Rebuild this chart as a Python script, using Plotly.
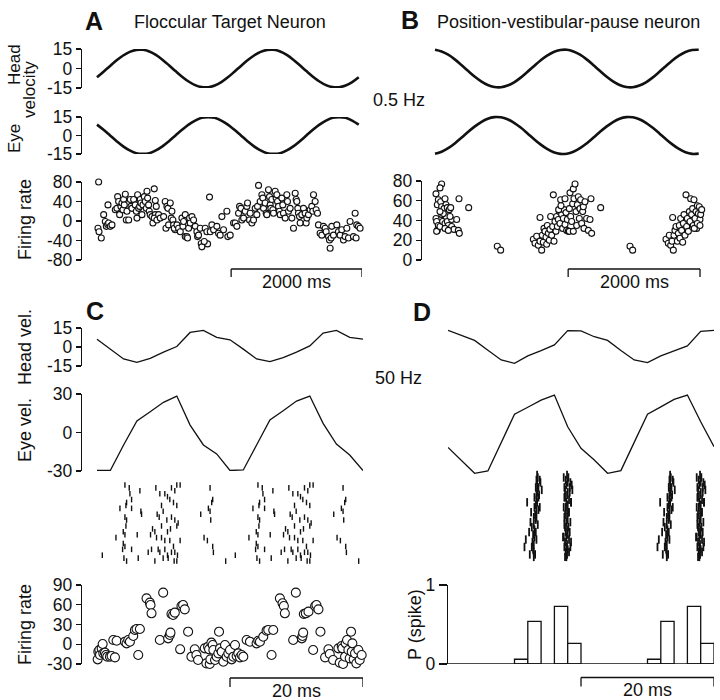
import plotly.graph_objects as go

W, H = 720, 700
INK = "#111111"
FONT = "Liberation Sans, Arial, Helvetica, sans-serif"

# ---------------- data ----------------
# Panel A / B : 0.5 Hz sinusoidal rotation (ms, deg/s)
t_sine = list(range(0, 4001, 100))
head_a = [-6.8, -2.5, 2.0, 6.3, 10.0, 12.8, 14.3, 14.4, 13.1, 10.5, 6.8, 2.5, -2.0, -6.3, -10.0, -12.8, -14.3, -14.4, -13.1, -10.5,
          -6.8, -2.5, 2.0, 6.3, 10.0, 12.8, 14.3, 14.4, 13.1, 10.5, 6.8, 2.5, -2.0, -6.3, -10.0, -12.8, -14.3, -14.4, -13.1, -10.5, -6.8]
eye_a = [8.8, 4.6, 0.0, -4.6, -8.8, -12.1, -14.3, -14.8, -14.3, -12.1, -8.8, -4.6, 0.0, 4.6, 8.8, 12.1, 14.3, 14.8, 14.3, 12.1,
         8.8, 4.6, 0.0, -4.6, -8.8, -12.1, -14.3, -14.8, -14.3, -12.1, -8.8, -4.6, 0.0, 4.6, 8.8, 12.1, 14.3, 14.8, 14.3, 12.1, 8.8]
head_b = [14.4, 13.1, 10.6, 7.0, 2.7, -1.8, -6.2, -9.9, -12.7, -14.2, -14.4, -13.1, -10.6, -7.0, -2.7, 1.8, 6.2, 9.9, 12.7, 14.2,
          14.4, 13.1, 10.6, 7.0, 2.7, -1.8, -6.2, -9.9, -12.7, -14.2, -14.4, -13.1, -10.6, -7.0, -2.7, 1.8, 6.2, 9.9, 12.7, 14.2, 14.4]
eye_b = [-14.7, -13.1, -10.3, -6.4, -1.9, 2.8, 7.2, 10.9, 13.6, 14.9, 14.7, 13.1, 10.3, 6.4, 1.9, -2.8, -7.2, -10.9, -13.6, -14.9,
         -14.7, -13.1, -10.3, -6.4, -1.9, 2.8, 7.2, 10.9, 13.6, 14.9, 14.7, 13.1, 10.3, 6.4, 1.9, -2.8, -7.2, -10.9, -13.6, -14.9, -14.7]

# Panel A firing rate (ms, spikes/s)
fr_a_t = [25, 15, 31, 66, 102, 127, 143, 163, 178, 204,
          168, 229, 280, 305, 316, 331, 346, 366, 382, 397,
          407, 417, 433, 448, 458, 484, 509, 519, 534, 560,
          585, 601, 611, 621, 636, 652, 662, 672, 687, 702,
          723, 738, 753, 764, 774, 789, 799, 814, 840, 855,
          875, 891, 906, 891, 875, 916, 942, 967, 1018, 1043,
          1069, 1084, 1054, 1094, 1120, 1145, 1135, 1160, 1171, 1196,
          1181, 1222, 1247, 1273, 1298, 1313, 1323, 1349, 1349, 1374,
          1384, 1400, 1415, 1425, 1451, 1476, 1502, 1527, 1537, 1552,
          1578, 1593, 1603, 1690, 1654, 1680, 1639, 1720, 1731, 1756,
          1782, 1832, 1858, 1883, 1909, 1934, 1985, 2000, 2036, 2087,
          2112, 2138, 2163, 2179, 2199, 2214, 2240, 2265, 2290, 2301,
          2331, 2341, 2367, 2392, 2418, 2443, 2453, 2469, 2494, 2520,
          2535, 2545, 2570, 2586, 2596, 2621, 2637, 2647, 2657, 2672,
          2688, 2698, 2723, 2738, 2749, 2759, 2774, 2789, 2800, 2825,
          2840, 2850, 2876, 2901, 2911, 2927, 2952, 2978, 3003, 3029,
          3044, 3054, 3069, 3079, 3095, 3105, 3130, 3156, 3181, 3197,
          3207, 3232, 3258, 3283, 3298, 3309, 3334, 3349, 3370, 3385,
          3410, 3436, 3461, 3487, 3502, 3538, 3553, 3563, 3578, 3588,
          3614, 3665, 3690, 3716, 3741, 3767, 3792, 3818, 3843, 3868,
          3919, 3945, 3960, 3970, 3996, 4021]
fr_a_v = [80, -15, -22, -35, 13, -1, -11, -7, -4, -11,
          33, -8, 23, 26, 50, 40, 13, 30, 37, 23,
          44, 33, 55, 2, 20, 2, 44, 30, 26, 44,
          33, 20, 6, 54, 26, 30, 44, 37, 13, 33,
          50, 40, 26, 61, 47, 33, 20, 13, 9, -4,
          66, 42, 30, 13, 6, 2, 13, 6, 9, 40,
          30, 26, -15, -8, 37, 20, 6, 2, -8, -18,
          -15, -8, -15, -22, 6, -11, -1, 13, -32, -32,
          -35, -15, 6, -4, 9, 2, -11, -22, -32, -29,
          -15, -46, -53, -47, -15, -22, -42, 49, -22, -8,
          -18, -11, -25, -29, 9, -18, 20, -32, -29, -4,
          -4, -11, 16, 30, 26, 2, 6, 20, 30, 37,
          2, 16, -4, 2, 26, 13, 30, 73, 40, 54,
          47, 26, 37, 16, 13, 64, 50, 33, 26, 44,
          23, 16, 61, 47, 54, 40, 30, 20, 13, 47,
          33, 16, 6, 54, 40, 20, 26, 6, -15, 57,
          44, 40, 26, 16, 9, -4, 13, 26, 16, -4,
          6, 13, 23, 30, 20, 54, 40, 23, 16, -8,
          -25, -29, -11, -15, -22, -32, -39, -56, -35, -11,
          -29, -8, -22, -29, -18, -39, -32, -15, -35, -1,
          -32, 16, -35, -8, -11, -15]

# Panel B firing rate (ms, spikes/s)
fr_b_t = [101, 76, 15, 51, 35, 86, 101, 152, 167, 137,
          187, 217, 238, 15, 25, 51, 35, 25, 76, 116,
          152, 167, 187, 202, 253, 253, 288, 329, 354, 369,
          364, 511, 101, 126, 76, 152, 202, 228,
          945, 996,
          1492, 1517, 1542, 1567, 1593, 1618, 1628, 1643, 1593, 1653,
          1668, 1684, 1694, 1704, 1719, 1734, 1744, 1754, 1770, 1785,
          1795, 1805, 1820, 1835, 1845, 1856, 1871, 1886, 1896, 1906,
          1921, 1936, 1947, 1957, 1972, 1987, 1997, 2007, 2022, 2038,
          2048, 2058, 2073, 2088, 2098, 2108, 2124, 2139, 2149, 2159,
          2174, 2189, 2199, 2209, 2225, 2240, 2250, 2260, 2275, 2300,
          2326, 2351, 2376, 2366, 2513, 1876, 1911, 1972, 2038, 2098,
          2958, 2998,
          3504, 3539, 3554, 3575, 3595, 3615, 3625, 3640, 3605, 3656,
          3676, 3691, 3706, 3716, 3726, 3741, 3757, 3767, 3777, 3792,
          3807, 3817, 3827, 3843, 3858, 3868, 3878, 3893, 3908, 3918,
          3928, 3944, 3959, 3969, 3979, 3994, 4009, 4019, 4030, 4045,
          3933, 3979, 4019]
fr_b_v = [77, 73, 67, 61, 56, 59, 54, 62, 56, 52,
          53, 51, 53, 42, 39, 35, 30, 29, 34, 39,
          37, 44, 39, 35, 41, 34, 31, 41, 30, 27,
          62, 53, 46, 47, 49, 32, 30, 44,
          14, 10,
          21, 17, 24, 15, 19, 10, 25, 18, 43, 32,
          29, 23, 16, 35, 27, 20, 31, 44, 25, 34,
          66, 19, 39, 29, 44, 34, 41, 49, 37, 61,
          46, 32, 42, 51, 36, 48, 30, 41, 29, 52,
          68, 44, 39, 57, 72, 62, 77, 49, 35, 56,
          64, 42, 52, 61, 37, 49, 54, 32, 59, 42,
          30, 41, 27, 62, 53, 51, 55, 62, 29, 29,
          14, 10,
          21, 17, 25, 15, 19, 10, 25, 30, 43, 34,
          19, 27, 35, 22, 42, 30, 18, 37, 46, 25,
          66, 34, 42, 29, 49, 39, 62, 46, 52, 35,
          61, 42, 49, 32, 55, 47, 54, 41, 46, 51,
          32, 37, 35]

# Panel C / D : 50 Hz (ms, deg/s)
t_fast = list(range(0, 41, 2))
head_c = [6.2, -1.7, -9.4, -12.1, -8.9, -4.1, 0.4, 11.5, 13.1, 7.6, 5.7, -1.7, -9.4, -11.6, -8.4, -4.1, 0.9, 11.0, 13.1, 7.6, 6.2]
eye_c = [-29.6, -29.6, -9.7, 9.0, 16.2, 23.5, 28.4, 5.8, -9.7, -16.7, -29.6, -29.2, -9.7, 9.7, 17.0, 24.5, 28.4, 7.1, -9.0, -17.5, -29.6]
head_d = [13.1, 9.2, 5.2, -2.5, -10.2, -12.9, -7.0, -2.8, 1.7, 12.9, 12.8, 8.1, 5.2, -2.8, -10.2, -12.3, -7.0, -3.1, 0.9, 12.3, 13.1]
eye_d = [-11.6, -21.7, -31.8, -30.0, -7.9, 14.2, 19.7, 25.3, 29.2, 4.5, -12.3, -21.4, -31.8, -29.7, -7.7, 14.2, 20.0, 25.8, 29.2, 8.4, -11.0]

# Panel C raster (ms, trial)
raster_c_t = [4.2, 4.85, 6.45, 4.95, 4.45, 5.2, 4.35, 3.45, 5.2, 6.6, 6.7, 4.2, 4.45, 4.35, 3.95, 4.2, 2.85, 6.05, 3.95, 4.2, 3.85, 5.2, 0.8, 4.05, 4.45, 6.2,
              8.85, 9.45, 10.2, 11.2, 11.7, 12, 12.5, 10.6, 10.95, 11.5, 12, 9.7, 9.05, 9.35, 9.95, 10.5, 11.2, 11.7, 12.2, 8.35, 8.7, 9.7, 10.6, 11.05, 12, 8.05, 8.95,
              9.7, 10.2, 10.95, 11.5, 12.5, 8.2, 9.2, 9.45, 10.2, 10.6, 11.2, 11.7, 12.1, 8.7, 9.95, 10.7, 11.6, 12, 7.7,
              17, 17.4, 17.25, 16.75, 15.6, 17, 17.1, 16.1, 16.6, 17.4, 17.5, 19.35,
              24.2, 24.85, 26.45, 24.95, 24.45, 25.2, 24.35, 23.45, 25.2, 26.6, 26.7, 24.2, 24.45, 24.35, 23.95, 24.2, 22.85, 26.05, 23.95, 24.2, 23.85, 25.2, 20.8, 24.05, 24.45, 26.2,
              28.85, 29.45, 30.2, 31.2, 31.7, 32, 32.5, 30.6, 30.95, 31.5, 32, 29.7, 29.05, 29.35, 29.95, 30.5, 31.2, 31.7, 32.2, 28.35, 28.7, 29.7, 30.6, 31.05, 32, 28.05, 28.95,
              29.7, 30.2, 30.95, 31.5, 32.5, 28.2, 29.2, 29.45, 30.2, 30.6, 31.2, 31.7, 32.1, 28.7, 29.95, 30.7, 31.6, 32, 27.7,
              37, 37.4, 37.25, 36.75, 35.6, 37, 37.1, 36.1, 36.6, 37.4, 37.5, 39.35]
raster_c_trial = [1, 2, 3, 4, 7, 6, 8, 9, 9, 10, 11, 12, 13, 15, 17, 18, 19, 18, 21, 22, 23, 23, 25, 26, 27, 26,
                  2, 4, 4, 2, 3, 1, 1, 5, 6, 7, 8, 8, 11, 12, 10, 13, 12, 13, 14, 16, 17, 15, 17, 16, 15, 18, 19,
                  19, 20, 20, 22, 20, 23, 23, 24, 23, 25, 24, 24, 25, 27, 26, 26, 27, 27, 24,
                  2, 6, 7, 9, 11, 10, 13, 19, 20, 22, 24, 27,
                  1, 2, 3, 4, 7, 6, 8, 9, 9, 10, 11, 12, 13, 15, 17, 18, 19, 18, 21, 22, 23, 23, 25, 26, 27, 26,
                  2, 4, 4, 2, 3, 1, 1, 5, 6, 7, 8, 8, 11, 12, 10, 13, 12, 13, 14, 16, 17, 15, 17, 16, 15, 18, 19,
                  19, 20, 20, 22, 20, 23, 23, 24, 23, 25, 24, 24, 25, 27, 26, 26, 27, 27, 24,
                  2, 6, 7, 9, 11, 10, 13, 19, 20, 22, 24, 27]

# Panel D raster (ms, trial)
raster_d_t = [17.9, 18.1, 17.7, 18.0, 17.8, 18.3, 17.6, 18.0, 17.9, 17.5, 18.2, 17.8, 18.0, 17.7, 17.9, 18.1, 17.6,
              17.9, 18.0, 17.8, 17.5, 18.1, 17.9, 17.7, 18.0, 17.8, 18.2, 17.6, 17.9, 17.8, 18.0, 17.7, 17.9, 17.8,
              18.6, 18.7, 17.3, 18.4, 18.5,
              17.4, 18.4, 17.5, 18.3, 17.6, 18.5, 17.4, 18.2, 17.5, 18.4, 17.6, 18.3, 17.4, 18.5, 17.5, 18.2, 17.6,
              13.4, 13.5, 13.3, 13.9, 13.4, 13.2, 14.1, 13.4, 13.3, 13.0, 13.3, 11.9, 13.2, 13.0, 13.3, 12.5, 13.1,
              12.9, 13.2, 12.4, 12.9, 12.6, 13.0, 12.2, 12.8, 13.0, 11.7, 12.7, 12.9, 11.5, 12.8, 12.9, 12.3, 12.9,
              13.6, 13.8,
              13.8, 13.6, 13.7, 13.4, 13.6, 13.3, 13.5, 13.2, 13.3, 12.6, 13.1,
              37.9, 38.1, 37.7, 38.0, 37.8, 38.3, 37.6, 38.0, 37.9, 37.5, 38.2, 37.8, 38.0, 37.7, 37.9, 38.1, 37.6,
              37.9, 38.0, 37.8, 37.5, 38.1, 37.9, 37.7, 38.0, 37.8, 38.2, 37.6, 37.9, 37.8, 38.0, 37.7, 37.9, 37.8,
              38.6, 38.7, 37.3, 38.4, 38.5,
              37.4, 38.4, 37.5, 38.3, 37.6, 38.5, 37.4, 38.2, 37.5, 38.4, 37.6, 38.3, 37.4, 38.5, 37.5, 38.2, 37.6,
              33.4, 33.5, 33.3, 33.9, 33.4, 33.2, 34.1, 33.4, 33.3, 33.0, 33.3, 31.9, 33.2, 33.0, 33.3, 32.5, 33.1,
              32.9, 33.2, 32.4, 32.9, 32.6, 33.0, 32.2, 32.8, 33.0, 31.7, 32.7, 32.9, 31.5, 32.8, 32.9, 32.3, 32.9,
              33.6, 33.8,
              33.8, 33.6, 33.7, 33.4, 33.6, 33.3, 33.5, 33.2, 33.3, 32.6, 33.1]
raster_d_trial = [1, 2, 3, 4, 5, 6, 7, 8, 9, 10, 11, 12, 13, 14, 15, 16, 17,
                  18, 19, 20, 21, 22, 23, 24, 25, 26, 27, 28, 29, 30, 31, 32, 33, 34,
                  5, 7, 26, 30, 12,
                  2, 4, 6, 8, 10, 12, 14, 16, 18, 20, 22, 24, 26, 28, 30, 32, 34,
                  1, 2, 3, 4, 5, 6, 7, 8, 9, 10, 11, 12, 13, 14, 15, 16, 17,
                  18, 19, 20, 21, 22, 23, 24, 25, 26, 27, 28, 29, 30, 31, 32, 33, 34,
                  10, 14,
                  3, 6, 9, 12, 15, 18, 21, 24, 27, 30, 33,
                  1, 2, 3, 4, 5, 6, 7, 8, 9, 10, 11, 12, 13, 14, 15, 16, 17,
                  18, 19, 20, 21, 22, 23, 24, 25, 26, 27, 28, 29, 30, 31, 32, 33, 34,
                  5, 7, 26, 30, 12,
                  2, 4, 6, 8, 10, 12, 14, 16, 18, 20, 22, 24, 26, 28, 30, 32, 34,
                  1, 2, 3, 4, 5, 6, 7, 8, 9, 10, 11, 12, 13, 14, 15, 16, 17,
                  18, 19, 20, 21, 22, 23, 24, 25, 26, 27, 28, 29, 30, 31, 32, 33, 34,
                  10, 14,
                  3, 6, 9, 12, 15, 18, 21, 24, 27, 30, 33]

# Panel C firing rate (ms, spikes/s)
fr_c_t = [0.1, 0.2, 0.35, 0.45, 0.7, 0.85, 0.95, 1.2, 1.35, 1.55, 1.95, 2.2, 2.45, 2.7, 2.95, 3.7, 4.2, 4.45, 4.7, 4.95,
          5.45, 5.7, 5.95, 6.2, 6.45, 7.45, 7.95, 8.05, 8.2, 9.45, 9.95, 10.7, 10.95, 11.05, 11.2, 11.45, 11.7, 12.5, 12.7, 12.95,
          13.2, 13.7, 14.2, 14.7, 14.95, 15.2, 16.2, 16.45, 16.7, 16.85, 16.95, 17.05, 17.2, 17.4, 17.5, 17.75, 18, 18.25, 18.35, 18.5,
          18.75, 19, 19.25, 19.5, 19.75, 20, 20.25, 20.5, 20.75, 21, 21.25, 21.5, 21.75, 22, 22.5, 23, 23.5, 24, 24.25, 24.5,
          25, 25.5, 25.75, 26.25, 26.5, 27.5, 27.9, 28.1, 28.25, 29.5, 29.9, 30.8, 30.9, 31, 31.1, 31.4, 31.8, 32.5, 32.8, 33,
          33.3, 33.6, 34.3, 34.8, 35, 35.5, 36.3, 36.5, 36.8, 36.9, 37, 37.3, 37.4, 37.6, 37.8, 38, 38.2, 38.3, 38.4, 38.6,
          38.8, 39, 39.3, 39.5, 39.8]
fr_c_v = [-22.9, -11.3, -8.7, -16.3, -6.2, 0.4, -13.8, -12.8, -16.3, -18.9, -18.9, -17.8, 6.5, -19.9, 5.4, -31.5, 3.9, 1.4, 6.5, 3.9,
          12.5, 21.6, 23.2, -16.3, 23.2, 69.7, 63.2, 59.6, 47, 6.5, 78.4, 9, 14.1, 17.6, 46, 44.4, 48, -7.7, 58.1, 59.6,
          53, 19.1, -18.9, -7.7, -16.3, -23.9, -6.2, -29, -3.7, -7.7, -30, -22.9, 2.4, -1.1, -8.7, -23.9, -18.9, -13.8, 19.1, -6.2,
          -11.3, -26.5, -1.1, -18.9, -13.8, -8.7, -22.9, -18.9, -1.1, -17.8, -13.8, -19.9, -16.3, -18.9, 6.5, 3.9, -31.5, 1.4, 5.4, 3.9,
          11.5, 20.6, 21.6, -16.3, 21.6, 69.7, 62.2, 58.1, 47, 6.5, 78.4, 9, 12.5, 17.6, 46, 47, 49.5, -8.7, 58.1, 59.6,
          53, 19.1, -19.9, -7.7, -14.8, -23.9, -6.2, -28, -2.7, -6.2, -30, -18.9, 1.4, 6.5, -8.7, -21.4, 19.1, -11.3, 1.4, -22.9,
          -13.8, -29, -8.7, -23.9, -16.3]

# Panel D spike probability per 2-ms bin
p_bin = [11, 13, 17, 19, 31, 33, 37, 39]
p_val = [0.06, 0.54, 0.73, 0.26, 0.06, 0.54, 0.73, 0.26]

# ---------------- figure ----------------
fig = go.Figure()
layout = dict(width=W, height=H, margin=dict(l=0, r=0, t=0, b=0, pad=0, autoexpand=False),
              template="none", paper_bgcolor="white", plot_bgcolor="rgba(0,0,0,0)", showlegend=False,
              font=dict(family=FONT, size=18, color=INK))


def ydom(top, bottom):
    return [1 - bottom / H, 1 - top / H]


def xaxis(l, r, rng):
    return dict(domain=[l / W, r / W], range=rng, visible=False, automargin=False, fixedrange=True,
                showgrid=False, zeroline=False)


def yvis(anchor, top, bottom, rng, vals, ticklen=5):
    return dict(domain=ydom(top, bottom), range=rng, anchor=anchor, side="left",
                showline=True, linecolor=INK, linewidth=1.3, ticks="outside", ticklen=ticklen,
                tickwidth=1.3, tickcolor=INK, tickmode="array", tickvals=vals,
                ticktext=[str(v) for v in vals], tickfont=dict(size=17.5, color=INK, family=FONT),
                showgrid=False, zeroline=False, fixedrange=True, automargin=False)


def yhid(top, bottom, rng):
    return dict(domain=ydom(top, bottom), range=rng, visible=False, automargin=False, fixedrange=True,
                showgrid=False, zeroline=False)


# x axes: left edge of each domain is where that column's y axis line sits
layout["xaxis"] = xaxis(82, 362, [-229, 4050])     # A  (t=0 at 97 px)
layout["xaxis2"] = xaxis(422, 702, [-197, 4050])   # B  (t=0 at 435 px)
layout["xaxis3"] = xaxis(82, 363, [-2.256, 40])    # C  (t=0 at 97 px)
layout["xaxis4"] = xaxis(448, 714, [0, 40])        # D

layout["yaxis"] = yvis("x", 49, 88, [-15, 15], [-15, 0, 15])
layout["yaxis2"] = yvis("x", 117, 154, [-15, 15], [-15, 0, 15])
layout["yaxis3"] = yvis("x", 182, 260, [-80, 80], [-80, -40, 0, 40, 80])
layout["yaxis4"] = yhid(46.4, 90.6, [-17, 17])
layout["yaxis5"] = yhid(114.5, 156.5, [-17, 17])
layout["yaxis6"] = yvis("x2", 181, 260, [0, 80], [0, 20, 40, 60, 80])
layout["yaxis7"] = yvis("x3", 328, 366, [-15, 15], [-15, 0, 15])
layout["yaxis8"] = yvis("x3", 394, 471, [-30, 30], [-30, 0, 30])
layout["yaxis9"] = yhid(482, 564, [28, 0])
layout["yaxis10"] = yvis("x3", 585, 664, [-30, 90], [-30, 0, 30, 60, 90])
layout["yaxis11"] = yhid(388.9, 476.1, [-34, 34])
layout["yaxis12"] = yhid(472.5, 559.4, [35, 0])
layout["yaxis13"] = yvis("x4", 585, 664, [0, 1], [0, 1], ticklen=8)

thick = dict(color=INK, width=2.6, shape="spline")
thin = dict(color=INK, width=1.3)
open_small = dict(size=6, color="white", line=dict(color=INK, width=1.1))
open_big = dict(size=9, color="white", line=dict(color=INK, width=1.1))
tick_c = dict(symbol="line-ns", size=4, line=dict(color=INK, width=1.4), color=INK)
tick_d = dict(symbol="line-ns", size=6, line=dict(color=INK, width=1.8), color=INK)

fig.add_trace(go.Scatter(x=t_sine, y=head_a, mode="lines", line=thick, xaxis="x", yaxis="y"))
fig.add_trace(go.Scatter(x=t_sine, y=eye_a, mode="lines", line=thick, xaxis="x", yaxis="y2"))
fig.add_trace(go.Scatter(x=fr_a_t, y=fr_a_v, mode="markers", marker=open_small, cliponaxis=False, xaxis="x", yaxis="y3"))
fig.add_trace(go.Scatter(x=t_sine, y=head_b, mode="lines", line=thick, xaxis="x2", yaxis="y4"))
fig.add_trace(go.Scatter(x=t_sine, y=eye_b, mode="lines", line=thick, xaxis="x2", yaxis="y5"))
fig.add_trace(go.Scatter(x=fr_b_t, y=fr_b_v, mode="markers", marker=open_small, cliponaxis=False, xaxis="x2", yaxis="y6"))
fig.add_trace(go.Scatter(x=t_fast, y=head_c, mode="lines", line=thin, xaxis="x3", yaxis="y7"))
fig.add_trace(go.Scatter(x=t_fast, y=eye_c, mode="lines", line=thin, xaxis="x3", yaxis="y8"))
fig.add_trace(go.Scatter(x=raster_c_t, y=raster_c_trial, mode="markers", marker=tick_c, cliponaxis=False, xaxis="x3", yaxis="y9"))
fig.add_trace(go.Scatter(x=fr_c_t, y=fr_c_v, mode="markers", marker=open_big, cliponaxis=False, xaxis="x3", yaxis="y10"))
fig.add_trace(go.Scatter(x=t_fast, y=head_d, mode="lines", line=thin, xaxis="x4", yaxis="y7"))
fig.add_trace(go.Scatter(x=t_fast, y=eye_d, mode="lines", line=thin, xaxis="x4", yaxis="y11"))
fig.add_trace(go.Scatter(x=raster_d_t, y=raster_d_trial, mode="markers", marker=tick_d, cliponaxis=False, xaxis="x4", yaxis="y12"))
fig.add_trace(go.Bar(x=p_bin, y=p_val, width=2, marker=dict(color="white", line=dict(color=INK, width=1.3)),
                     xaxis="x4", yaxis="y13"))

shapes = []


def scalebar(xref, x0, x1, ypx, drop):
    ln = dict(color=INK, width=1.3)
    yb, yt = 1 - ypx / H, 1 - (ypx + drop) / H
    shapes.append(dict(type="line", xref=xref, yref="paper", x0=x0, x1=x1, y0=yb, y1=yb, line=ln))
    shapes.append(dict(type="line", xref=xref, yref="paper", x0=x0, x1=x0, y0=yb, y1=yt, line=ln))
    shapes.append(dict(type="line", xref=xref, yref="paper", x0=x1, x1=x1, y0=yb, y1=yt, line=ln))


scalebar("x", 2050, 4050, 269, 8)
scalebar("x2", 2020, 4020, 269, 8)
scalebar("x3", 20, 40, 678, 9)
scalebar("x4", 20, 40, 677.5, 9)
shapes.append(dict(type="line", xref="x4", yref="y13", x0=0, x1=40, y0=0, y1=0, line=dict(color=INK, width=1.3)))
layout["shapes"] = shapes

ann = []


def text(s, xpx, ypx, size=18, angle=0, bold=False):
    ann.append(dict(text=("<b>%s</b>" % s) if bold else s, x=xpx / W, y=1 - ypx / H, xref="paper", yref="paper",
                    showarrow=False, xanchor="center", yanchor="middle", textangle=angle,
                    font=dict(family=FONT, size=size, color=INK)))


def dtext(s, xref, xval, ypx, size=18):
    ann.append(dict(text=s, x=xval, y=1 - ypx / H, xref=xref, yref="paper", showarrow=False,
                    xanchor="center", yanchor="middle", font=dict(family=FONT, size=size, color=INK)))


text("A", 94, 21, 25, bold=True)
text("Floccular Target Neuron", 230, 22)
text("B", 410, 20, 25, bold=True)
text("Position-vestibular-pause neuron", 568, 22)
text("0.5 Hz", 399, 100)
text("Head", 14, 65, 17, -90)
text("velocity", 30, 90, 17, -90)
text("Eye", 14, 139, 17, -90)
text("Firing rate", 25, 220, 18, -90)
text("C", 95, 311, 25, bold=True)
text("D", 422, 312, 25, bold=True)
text("Head vel.", 25, 347, 18, -90)
text("Eye vel.", 25, 430, 18, -90)
text("50 Hz", 398, 378)
text("Firing rate", 25, 625, 18, -90)
text("P (spike)", 415, 624, 18, -90)
dtext("2000 ms", "x", 3050, 282)
dtext("2000 ms", "x2", 3020, 282)
dtext("20 ms", "x3", 30, 691)
dtext("20 ms", "x4", 30, 690)
layout["annotations"] = ann

fig.update_layout(**layout)
fig.write_html("out.html", config={"displayModeBar": False, "staticPlot": True},
               post_script="document.body.style.margin='0px';")
